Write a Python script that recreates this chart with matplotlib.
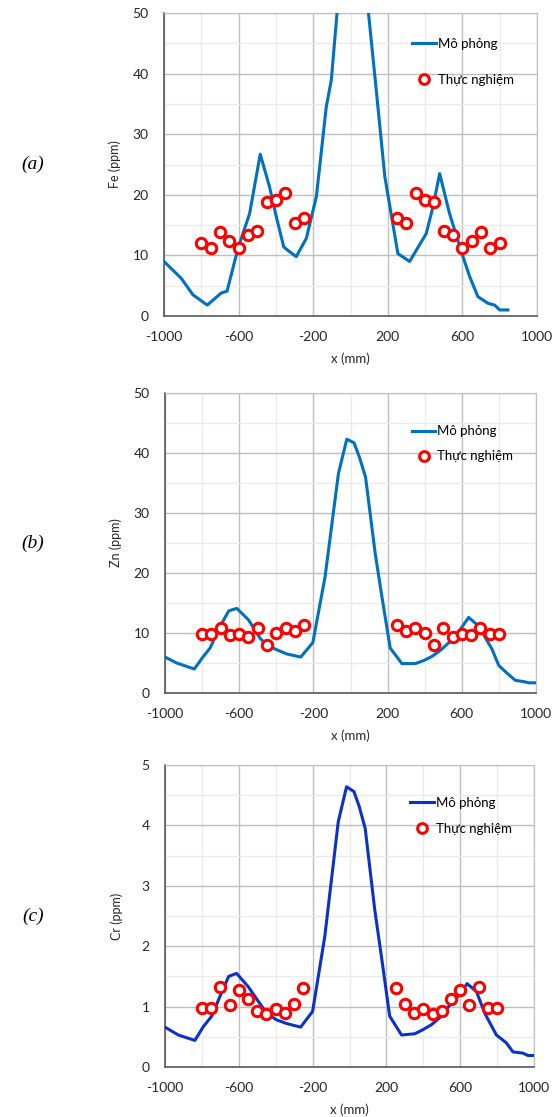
import matplotlib
matplotlib.use("Agg")
import matplotlib.pyplot as plt
from matplotlib.lines import Line2D

# ==============================
# DATA
# ==============================

# measurement positions (mm), shared by all three panels
exp_x = [-800, -750, -700, -650, -600, -550, -500, -450, -400, -350, -300, -250,
         250, 300, 350, 400, 450, 500, 550, 600, 650, 700, 750, 800]

fe_exp = [12.1, 11.2, 13.8, 12.3, 11.3, 13.3, 14.1, 18.8, 19.1, 20.3, 15.4, 16.1,
          16.1, 15.4, 20.3, 19.1, 18.8, 14.1, 13.3, 11.3, 12.3, 13.8, 11.2, 12.1]
zn_exp = [9.9, 9.9, 10.8, 9.6, 9.9, 9.3, 10.8, 8.0, 10.0, 10.8, 10.4, 11.4,
          11.4, 10.4, 10.8, 10.0, 8.0, 10.8, 9.3, 9.9, 9.6, 10.8, 9.9, 9.9]
cr_exp = [0.98, 0.98, 1.32, 1.03, 1.27, 1.12, 0.93, 0.87, 0.96, 0.90, 1.05, 1.31,
          1.31, 1.05, 0.90, 0.96, 0.87, 0.93, 1.12, 1.27, 1.03, 1.32, 0.98, 0.98]

# simulation curves
fe_sim_x = [-1000, -907, -845, -768, -693, -662, -603, -541, -484, -434, -398, -358,
            -326, -291, -237, -183, -130, -103, -50, 0, 40, 80, 138, 184, 254, 317,
            406, 442, 478, 531, 603, 639, 683, 737, 773, 800, 844]
fe_sim = [9.0, 6.2, 3.5, 1.8, 3.8, 4.1, 11.2, 16.9, 26.7, 21.3, 16.4, 11.4,
          10.6, 9.8, 12.8, 19.7, 34.5, 38.9, 58.0, 61.0, 60.0, 55.0, 37.3, 23.0, 10.3, 9.0,
          13.6, 18.0, 23.5, 16.9, 9.8, 6.5, 3.2, 2.1, 1.8, 1.0, 1.0]

zn_sim_x = [-1000, -937, -842, -793, -757, -703, -656, -613, -550, -487, -451, -397,
            -343, -268, -203, -137, -65, -20, 19, 48, 81, 133, 169, 214, 277, 349,
            394, 439, 484, 538, 592, 637, 682, 718, 763, 799, 844, 889, 934, 961, 1000]
zn_sim = [6.0, 5.0, 4.0, 6.1, 7.5, 11.1, 13.7, 14.1, 12.2, 9.1, 8.0, 7.2,
          6.5, 6.0, 8.4, 19.4, 36.6, 42.3, 41.7, 39.3, 36.0, 23.3, 16.1, 7.5, 4.9, 4.9,
          5.4, 6.1, 7.1, 8.6, 10.6, 12.6, 11.4, 9.7, 7.3, 4.6, 3.3, 2.1, 1.9, 1.7, 1.7]

cr_sim_x = [-1000, -928, -838, -792, -747, -702, -655, -612, -549, -495, -449, -395,
            -341, -265, -200, -134, -61, -16, 24, 53, 85, 137, 173, 218, 282, 354,
            399, 444, 498, 552, 597, 637, 688, 733, 796, 850, 886, 940, 967, 1000]
cr_sim = [0.66, 0.53, 0.44, 0.67, 0.84, 1.17, 1.50, 1.55, 1.33, 1.09, 0.89, 0.78,
          0.72, 0.66, 0.92, 2.16, 4.06, 4.64, 4.56, 4.31, 3.95, 2.60, 1.83, 0.84, 0.53, 0.55,
          0.62, 0.70, 0.84, 1.06, 1.20, 1.38, 1.25, 0.89, 0.53, 0.40, 0.25, 0.23, 0.19, 0.19]

x_ticks = [-1000, -600, -200, 200, 600, 1000]
x_minor = [-800, -400, 0, 400, 800]

panels = [
    # letter, ylabel, sim x, sim y, exp y, ymax, ystep, line colour, axes rect,
    # legend anchor y, legend spacing
    ("(a)", "Fe (ppm)", fe_sim_x, fe_sim, fe_exp, 50, 10, "#0070C0",
     [164 / 554, 1 - 316 / 1117, 373 / 554, 303 / 1117], 0.918, 1.83),
    ("(b)", "Zn (ppm)", zn_sim_x, zn_sim, zn_exp, 50, 10, "#0070C0",
     [165 / 554, 1 - 693 / 1117, 371 / 554, 300 / 1117], 0.892, 0.98),
    ("(c)", "Cr (ppm)", cr_sim_x, cr_sim, cr_exp, 5, 1, "#0A32C8",
     [165 / 554, 1 - 1067 / 1117, 369 / 554, 302 / 1117], 0.895, 1.05),
]

plt.rcParams["font.family"] = ["Lato", "DejaVu Sans"]
plt.rcParams["axes.unicode_minus"] = False

fig = plt.figure(figsize=(5.54, 11.17), dpi=100)

for letter, ylabel, sx, sy, ey, ymax, ystep, color, rect, ly, lspace in panels:
    ax = fig.add_axes(rect)

    ax.plot(sx, sy, color=color, lw=2.2, solid_joinstyle="round", zorder=3)
    ax.plot(exp_x, ey, "o", ms=7.5, mfc="white", mec="#FF0000", mew=2.2, zorder=4)

    ax.set_xlim(-1000, 1000)
    ax.set_ylim(0, ymax)
    ax.set_xticks(x_ticks)
    ax.set_xticks(x_minor, minor=True)
    ax.set_yticks([i * ystep for i in range(6)])
    ax.set_yticks([i * ystep / 2 for i in range(1, 11, 2)], minor=True)
    ax.set_yticklabels([str(i * ystep) for i in range(6)])

    ax.grid(which="major", color="#BFBFBF", lw=1.0, zorder=0)
    ax.grid(which="minor", color="#EBEBEB", lw=1.0, zorder=0)
    ax.set_axisbelow(True)

    ax.tick_params(which="both", length=0, labelsize=10, colors="#262626", pad=11)

    for side in ["top", "right"]:
        ax.spines[side].set_color("#BFBFBF")
    for side in ["left", "bottom"]:
        ax.spines[side].set_color("#595959")
        ax.spines[side].set_linewidth(1.2)

    ax.set_ylabel(ylabel, fontsize=9, color="#262626")
    ax.yaxis.set_label_coords(-0.115, 0.5)
    ax.set_xlabel("x (mm)", fontsize=9.5, color="#262626")
    ax.xaxis.set_label_coords(0.5, -0.12)

    handles = [
        Line2D([], [], color=color, lw=2.2),
        Line2D([], [], ls="none", marker="o", ms=7, mfc="white", mec="#FF0000", mew=2.2),
    ]
    ax.legend(handles, ["Mô phỏng", "Thực nghiệm"], loc="upper left",
              bbox_to_anchor=(0.665, ly),
              frameon=False, fontsize=9.5, handlelength=1.8, handletextpad=0.15,
              labelspacing=lspace, borderpad=0, borderaxespad=0)

    # panel letter, left of the axes
    y_mid = rect[1] + rect[3] * 0.5
    fig.text(33 / 554, y_mid, letter, fontsize=14, style="italic",
             family="Liberation Serif", ha="center", va="center")

fig.savefig("out.png", dpi=100)
